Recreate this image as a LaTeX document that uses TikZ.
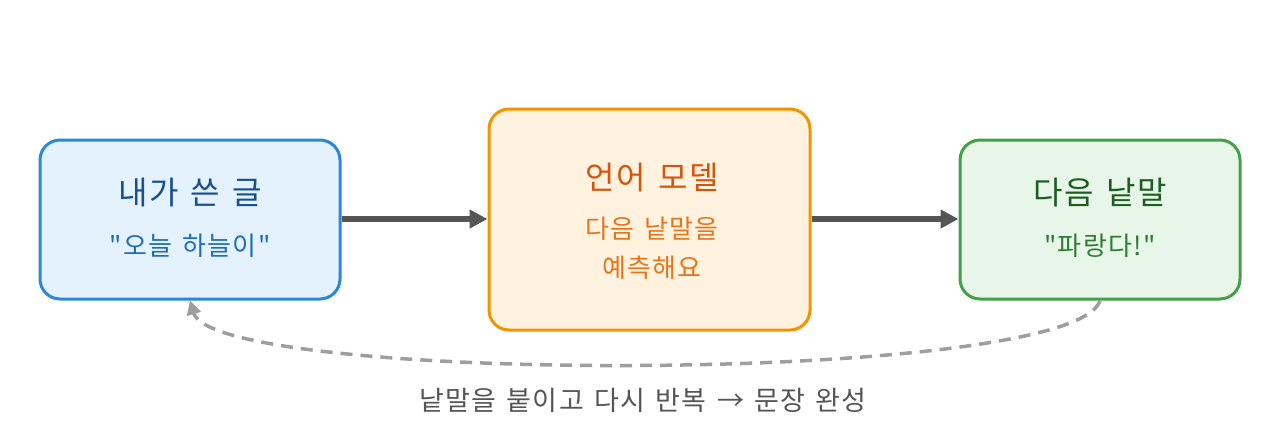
\documentclass[tikz,border=0pt]{standalone}
\usepackage{fontspec}
\setmainfont{Noto Sans CJK KR}[Ligatures=TeXOff, LetterSpace=5, WordSpace=1.4]
\usetikzlibrary{arrows.meta}
\definecolor{bOne}{HTML}{2B88D8}
\definecolor{fOne}{HTML}{E3F2FD}
\definecolor{tOne}{HTML}{1A4F8F}
\definecolor{sOne}{HTML}{1F6DB8}
\definecolor{bTwo}{HTML}{F29400}
\definecolor{fTwo}{HTML}{FFF3E0}
\definecolor{tTwo}{HTML}{D4560E}
\definecolor{sTwo}{HTML}{E6751E}
\definecolor{bThr}{HTML}{43A047}
\definecolor{fThr}{HTML}{E8F5E9}
\definecolor{tThr}{HTML}{1B5E20}
\definecolor{sThr}{HTML}{2E7D32}
\definecolor{arr}{HTML}{555555}
\definecolor{dsh}{HTML}{9E9E9E}
\definecolor{lbl}{HTML}{555555}
\tikzset{
  box/.style={draw, line width=3pt, rounded corners=20pt, inner sep=0pt, align=center},
  ttl/.style={font=\fontsize{32}{36}\selectfont},
  sub/.style={font=\fontsize{26}{30}\selectfont},
  flow/.style={draw=arr, line width=5.5pt, -{Triangle[length=18pt,width=18pt]}},
  back/.style={draw=dsh, line width=3.5pt, dash pattern=on 12pt off 8pt, -{Triangle[length=14pt,width=14pt]}},
}
\begin{document}
\begin{tikzpicture}[x=1pt,y=-1pt]
\useasboundingbox (0,0) rectangle (1280,440);
\node[box, draw=bOne, fill=fOne, minimum width=300pt, minimum height=159pt] (n1) at (190,219.5) {};
\node[box, draw=bTwo, fill=fTwo, minimum width=321pt, minimum height=221pt] (n2) at (649.5,219.5) {};
\node[box, draw=bThr, fill=fThr, minimum width=280pt, minimum height=159pt] (n3) at (1100,219.5) {};
\node[ttl, text=tOne] (t1) at (190,193) {내가 쓴 글};
\node[sub, text=sOne] (s1) at (190,246) {"오늘 하늘이"};
\node[ttl, text=tTwo] (t2) at (652,178) {언어 모델};
\node[sub, text=sTwo] (s2) at (652,229) {다음 낱말을};
\node[sub, text=sTwo] (s3) at (652,268) {예측해요};
\node[ttl, text=tThr] (t3) at (1100,193) {다음 낱말};
\node[sub, text=sThr] (s4) at (1100,246) {"파랑다!"};
\node[text=lbl, font=\fontsize{27}{30}\selectfont] (lb) at (643,400) {낱말을 붙이고 다시 반복 → 문장 완성};
\draw[flow] (n1.east |- 0,219) -- (n2.west |- 0,219);
\draw[flow] (n2.east |- 0,219) -- (n3.west |- 0,219);
\draw[back] (n3.south) .. controls (1075,385) and (215,385) .. (n1.south);
\end{tikzpicture}
\end{document}
